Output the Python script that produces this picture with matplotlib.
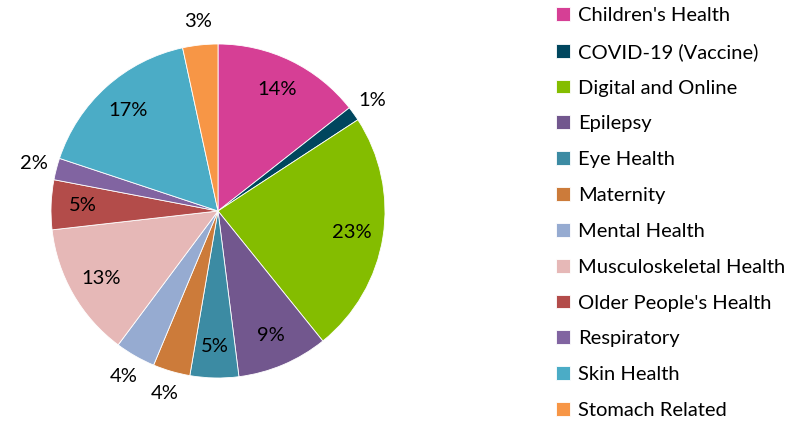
import numpy as np
import matplotlib.pyplot as plt

plt.rcParams['font.family'] = ['Lato', 'DejaVu Sans']

names = ["Children's Health", "COVID-19 (Vaccine)", "Digital and Online", "Epilepsy",
         "Eye Health", "Maternity", "Mental Health", "Musculoskeletal Health",
         "Older People's Health", "Respiratory", "Skin Health", "Stomach Related"]
shares = [14.4, 1.4, 23.4, 8.8, 4.7, 3.6, 3.9, 13.0, 4.8, 2.1, 16.5, 3.4]
colors = ['#D63F95', '#00465E', '#84BD00', '#72578E', '#3C8BA3', '#CC7B3A',
          '#96ABD1', '#E6B8B7', '#B34C4A', '#8164A1', '#4BACC6', '#F79646']
outside = [False, True, False, False, False, True, True, False, False, True, False, True]

fig = plt.figure(figsize=(8.05, 4.23), dpi=100)
ax = fig.add_axes([51/805, 45/423, 334/805, 334/423])

wedges, _ = ax.pie(shares, colors=colors, startangle=90, counterclock=False,
                   radius=1.0, wedgeprops=dict(edgecolor='white', linewidth=0.6))
ax.set_xlim(-1, 1)
ax.set_ylim(-1, 1)
ax.set_aspect('equal')

for w, v, out in zip(wedges, shares, outside):
    mid = np.deg2rad((w.theta1 + w.theta2) / 2)
    r = 1.14 if out else 0.81
    ax.text(r*np.cos(mid), r*np.sin(mid), '%d%%' % int(v + 0.5), ha='center', va='center',
            fontsize=14.5, color='black', clip_on=False)

fig.legend(wedges, names, loc='upper left', bbox_to_anchor=(552/805, 1 - 3/423),
           frameon=False, fontsize=14.5, handlelength=0.68, handleheight=0.68,
           handletextpad=0.4, labelspacing=0.935, borderaxespad=0.0, borderpad=0.2)

fig.savefig('out.png', dpi=100)
